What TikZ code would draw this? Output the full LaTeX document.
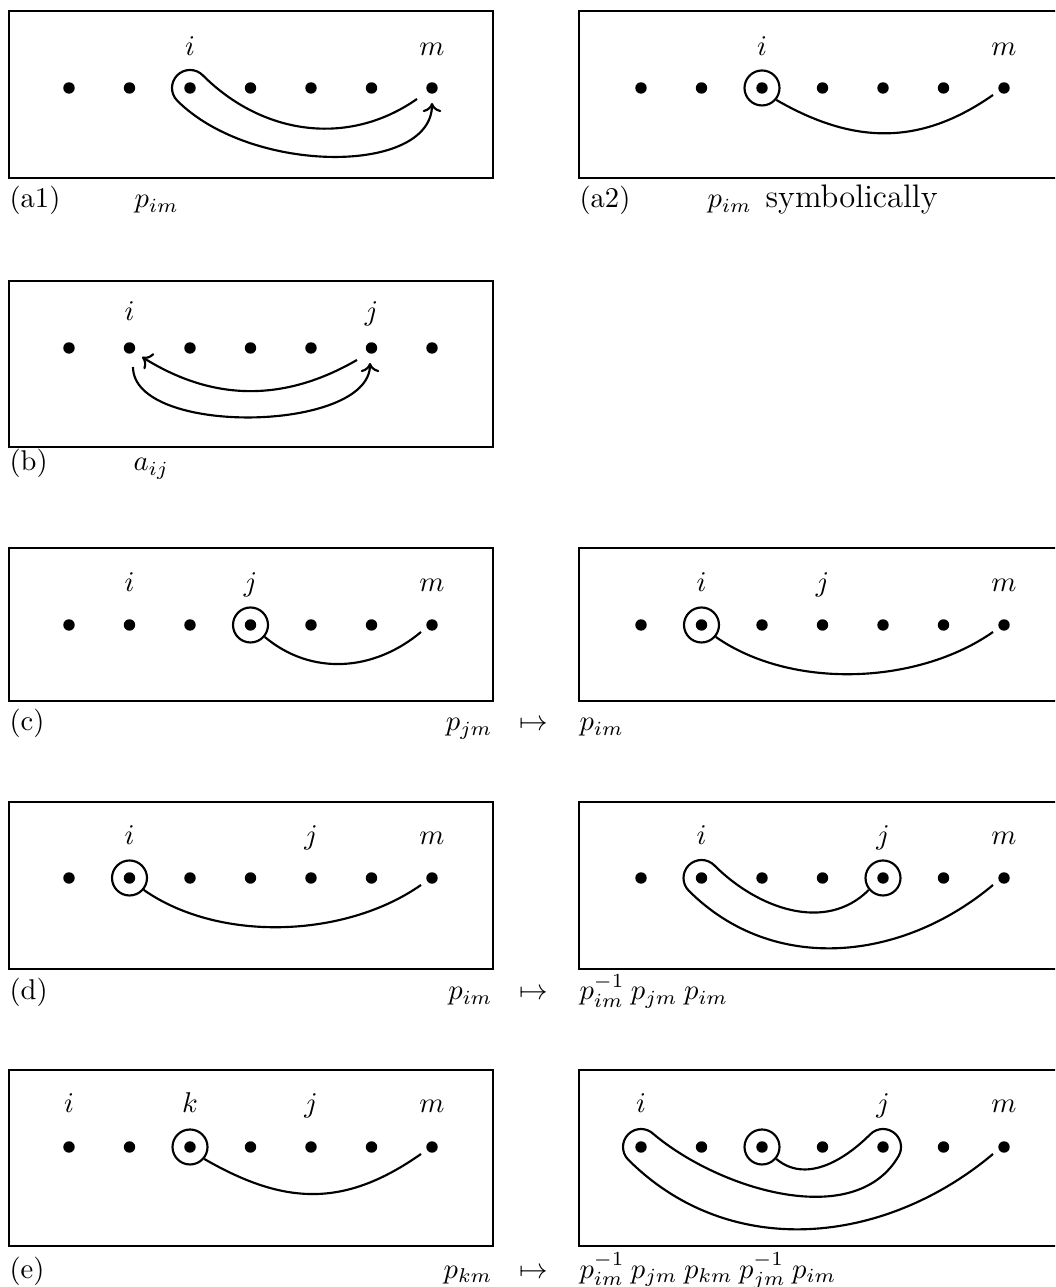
\documentclass[tikz,border=0pt]{standalone}
\usetikzlibrary{calc,arrows.meta}
\tikzset{
  dot/.style={circle, fill, inner sep=0pt, minimum size=4pt},
  ring/.style={circle, draw, inner sep=0pt, minimum size=12.25pt, line width=0.75pt},
  frame/.style={draw, line width=0.45pt},
  curve/.style={line width=0.75pt},
  arr/.style={-{To[length=3.2pt,width=6.5pt]}},
  lab/.style={anchor=base, inner sep=0pt},
  cptl/.style={anchor=base west, inner sep=0pt},
  cptr/.style={anchor=base east, inner sep=0pt},
  cptm/.style={anchor=base, inner sep=0pt},
}
\newcommand\sevenpts[1]{\foreach \k in {0,...,6}{\node[dot] (#1d\k) at (60.5*\k,0) {};}}
\begin{document}
\begin{tikzpicture}[x=0.35pt,y=0.35pt]
\path[use as bounding box, clip] (0,0) rectangle (1055,1287);

% ---------- (a1) ----------
\begin{scope}[shift={(69,1199)}]
  \draw[frame] (-60,77) rectangle (424,-90);
  \sevenpts{a1}
  \node[lab] (a1li) at (121,32) {$i$};
  \node[lab] (a1lm) at (363,32) {$m$};
  \draw[curve,arr] ($(a1d6)+(-15,-11)$) to[out=215,in=-45] ($(a1d2)+(45:18)$)
     arc[start angle=45,end angle=225,radius=18]
     .. controls +(-45:105) and +(0,-72) .. ($(a1d6)+(0,-15)$);
  \node[cptl] (a1c) at (-60,-120) {(a1)};
  \node[cptl] (a1p) at (65,-120) {$p_{im}$};
\end{scope}

% ---------- (a2) ----------
\begin{scope}[shift={(641,1199)}]
  \draw[frame] (-62,77) rectangle (422,-90);
  \sevenpts{a2}
  \node[ring] (a2r) at (a2d2) {};
  \node[lab] (a2li) at (121,32) {$i$};
  \node[lab] (a2lm) at (363,32) {$m$};
  \draw[curve] (a2r.-40) to[out=-30,in=215,looseness=1.05] ($(a2d6)+(-11,-7)$);
  \node[cptl] (a2c) at (-62,-120) {(a2)};
  \node[cptl] (a2p) at (66,-120) {$p_{im}$};
  \node[cptl] (a2s) at (124,-120) {\fontsize{11.4}{14}\selectfont symbolically};
\end{scope}

% ---------- (b) ----------
\begin{scope}[shift={(69,939)}]
  \draw[frame] (-60,67) rectangle (424,-99);
  \sevenpts{b}
  \node[lab] (bli) at (60.5,27) {$i$};
  \node[lab] (blj) at (302.5,27) {$j$};
  \draw[curve,arr] ($(bd5)+(-14.5,-12)$) to[out=210,in=-32] ($(bd1)+(12.5,-9)$);
  \draw[curve,arr] ($(bd1)+(3.5,-19)$) to[out=-90,in=-90,looseness=0.75] ($(bd5)+(-1.5,-15)$);
  \node[cptl] (bc) at (-60,-123) {(b)};
  \node[cptl] (bp) at (64,-123) {$a_{ij}$};
\end{scope}

% ---------- (c) left ----------
\begin{scope}[shift={(69,662)}]
  \draw[frame] (-60,77) rectangle (424,-76);
  \sevenpts{c}
  \node[ring] (cr) at (cd3) {};
  \node[lab] (cli) at (60.5,33) {$i$};
  \node[lab] (clj) at (181.5,33) {$j$};
  \node[lab] (clm) at (363,33) {$m$};
  \draw[curve] (cr.-40) to[out=-40,in=220] ($(cd6)+(-11,-7)$);
  \node[cptl] (cc) at (-60,-106) {(c)};
  \node[cptr] (cpl) at (424,-106) {$p_{jm}$};
  \node[cptm] (cmt) at (465,-106) {$\mapsto$};
  \node[cptl] (cpr) at (510,-106) {$p_{im}$};
\end{scope}

% ---------- (c) right ----------
\begin{scope}[shift={(641,662)}]
  \draw[frame] (-62,77) rectangle (422,-76);
  \sevenpts{cc}
  \node[ring] (ccr) at (ccd1) {};
  \node[lab] (ccli) at (60.5,33) {$i$};
  \node[lab] (cclj) at (181.5,33) {$j$};
  \node[lab] (cclm) at (363,33) {$m$};
  \draw[curve] (ccr.-40) to[out=-35,in=215,looseness=0.85] ($(ccd6)+(-11,-7)$);
\end{scope}

% ---------- (d) left ----------
\begin{scope}[shift={(69,409)}]
  \draw[frame] (-60,76) rectangle (424,-91);
  \sevenpts{d}
  \node[ring] (dr) at (dd1) {};
  \node[lab] (dli) at (60.5,33) {$i$};
  \node[lab] (dlj) at (242,33) {$j$};
  \node[lab] (dlm) at (363,33) {$m$};
  \draw[curve] (dr.-40) to[out=-35,in=215,looseness=0.85] ($(dd6)+(-11,-7)$);
  \node[cptl] (dc) at (-60,-122) {(d)};
  \node[cptr] (dpl) at (424,-122) {$p_{im}$};
  \node[cptm] (dmt) at (465,-122) {$\mapsto$};
  \node[cptl] (dpr) at (510,-122) {$p_{im}^{-1}\:p_{jm}\:p_{im}$};
\end{scope}

% ---------- (d) right ----------
\begin{scope}[shift={(641,409)}]
  \draw[frame] (-62,76) rectangle (422,-91);
  \sevenpts{dd}
  \node[ring] (ddr) at (ddd4) {};
  \node[lab] (ddli) at (60.5,33) {$i$};
  \node[lab] (ddlj) at (242,33) {$j$};
  \node[lab] (ddlm) at (363,33) {$m$};
  \draw[curve] (ddr.220) to[out=225,in=-45] ($(ddd1)+(45:18)$)
     arc[start angle=45,end angle=225,radius=18]
     to[out=-45,in=220] ($(ddd6)+(-11,-7)$);
\end{scope}

% ---------- (e) left ----------
\begin{scope}[shift={(69,140)}]
  \draw[frame] (-60,77) rectangle (424,-99);
  \sevenpts{e}
  \node[ring] (er) at (ed2) {};
  \node[lab] (eli) at (0,34) {$i$};
  \node[lab] (elk) at (121,34) {$k$};
  \node[lab] (elj) at (242,34) {$j$};
  \node[lab] (elm) at (363,34) {$m$};
  \draw[curve] (er.-40) to[out=-30,in=215,looseness=1.1] ($(ed6)+(-11,-7)$);
  \node[cptl] (ec) at (-60,-131) {(e)};
  \node[cptr] (epl) at (424,-131) {$p_{km}$};
  \node[cptm] (emt) at (465,-131) {$\mapsto$};
  \node[cptl] (epr) at (510,-131) {$p_{im}^{-1}\:p_{jm}\:p_{km}\:p_{jm}^{-1}\:p_{im}$};
\end{scope}

% ---------- (e) right ----------
\begin{scope}[shift={(641,140)}]
  \draw[frame] (-62,77) rectangle (422,-99);
  \sevenpts{ee}
  \node[ring] (eer) at (eed2) {};
  \node[lab] (eeli) at (0,34) {$i$};
  \node[lab] (eelj) at (242,34) {$j$};
  \node[lab] (eelm) at (363,34) {$m$};
  \draw[curve] (eer.-40) to[out=-40,in=225] ($(eed4)+(135:18)$)
     arc[start angle=135,end angle=-30,radius=18]
     to[out=240,in=-40,looseness=0.9] ($(eed0)+(45:18)$)
     arc[start angle=45,end angle=225,radius=18]
     to[out=-45,in=220] ($(eed6)+(-11,-7)$);
\end{scope}
\end{tikzpicture}
\end{document}
